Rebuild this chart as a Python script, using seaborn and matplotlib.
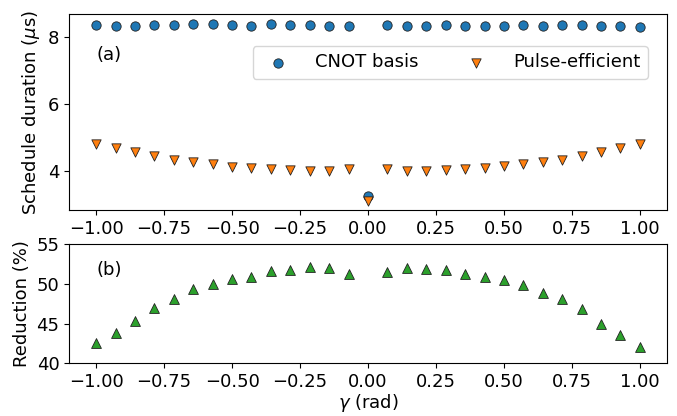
import numpy as np
import pandas as pd
import matplotlib
matplotlib.use("Agg")
import matplotlib.pyplot as plt
import seaborn as sns

# gamma values (rad)
gamma = [-1.0, -0.929, -0.857, -0.786, -0.714, -0.643, -0.571, -0.5, -0.429, -0.357,
         -0.286, -0.214, -0.143, -0.071, 0.0, 0.071, 0.143, 0.214, 0.286, 0.357,
         0.429, 0.5, 0.571, 0.643, 0.714, 0.786, 0.857, 0.929, 1.0]

# schedule durations (us)
cnot_dur = [8.37, 8.34, 8.34, 8.37, 8.37, 8.40, 8.40, 8.37, 8.34, 8.38,
            8.37, 8.37, 8.33, 8.32, 3.27, 8.37, 8.34, 8.34, 8.37, 8.34,
            8.34, 8.34, 8.37, 8.34, 8.37, 8.37, 8.34, 8.34, 8.31]
pulse_dur = [4.81, 4.70, 4.58, 4.46, 4.34, 4.27, 4.21, 4.13, 4.10, 4.06,
             4.03, 4.01, 4.00, 4.06, 3.12, 4.06, 4.01, 4.01, 4.03, 4.06,
             4.10, 4.14, 4.21, 4.27, 4.34, 4.46, 4.58, 4.70, 4.81]

# reduction (%) -- no point at gamma = 0
gamma_red = [g for g in gamma if g != 0.0]
reduction = [42.6, 43.8, 45.3, 46.9, 48.1, 49.3, 50.0, 50.6, 50.9, 51.6,
             51.8, 52.1, 52.0, 51.3, 51.5, 52.0, 51.9, 51.8, 51.3, 50.9,
             50.5, 49.8, 48.9, 48.1, 46.8, 45.0, 43.6, 42.1]

df_top = pd.DataFrame({"gamma": gamma, "cnot": cnot_dur, "pulse": pulse_dur})
df_bot = pd.DataFrame({"gamma": gamma_red, "reduction": reduction})

plt.rcParams["font.size"] = 13

fig = plt.figure(figsize=(6.77, 4.16), dpi=100)
ax1 = fig.add_axes([0.102, 0.495, 0.883, 0.471])
ax2 = fig.add_axes([0.102, 0.127, 0.883, 0.286])

sns.scatterplot(data=df_top, x="gamma", y="cnot", ax=ax1, marker="o", s=45,
                color="tab:blue", edgecolor="#222222", linewidth=0.6, label="CNOT basis", zorder=3)
sns.scatterplot(data=df_top, x="gamma", y="pulse", ax=ax1, marker="v", s=45,
                color="tab:orange", edgecolor="#222222", linewidth=0.6, label="Pulse-efficient", zorder=3)
ax1.set_xlim(-1.1, 1.1)
ax1.set_ylim(2.84, 8.68)
ax1.set_yticks([4, 6, 8])
ax1.set_xticks([-1, -0.75, -0.5, -0.25, 0, 0.25, 0.5, 0.75, 1])
ax1.set_xlabel("")
ax1.set_ylabel(r"Schedule duration ($\mu$s)")
ax1.text(0.046, 0.79, "(a)", transform=ax1.transAxes, va="center", ha="left")
ax1.legend(ncol=2, loc="upper right", bbox_to_anchor=(0.968, 0.837), borderaxespad=0,
           markerscale=1.0, columnspacing=2.2, handletextpad=1.05)

sns.scatterplot(data=df_bot, x="gamma", y="reduction", ax=ax2, marker="^", s=50,
                color="tab:green", edgecolor="#222222", linewidth=0.6, zorder=3)
ax2.set_xlim(-1.1, 1.1)
ax2.set_ylim(40, 55)
ax2.set_yticks([40, 45, 50, 55])
ax2.set_xticks([-1, -0.75, -0.5, -0.25, 0, 0.25, 0.5, 0.75, 1])
ax2.set_xlabel(r"$\gamma$ (rad)", labelpad=1)
ax2.set_ylabel("Reduction (%)")
ax2.text(0.046, 0.78, "(b)", transform=ax2.transAxes, va="center", ha="left")

fig.savefig("out.png", dpi=100)
